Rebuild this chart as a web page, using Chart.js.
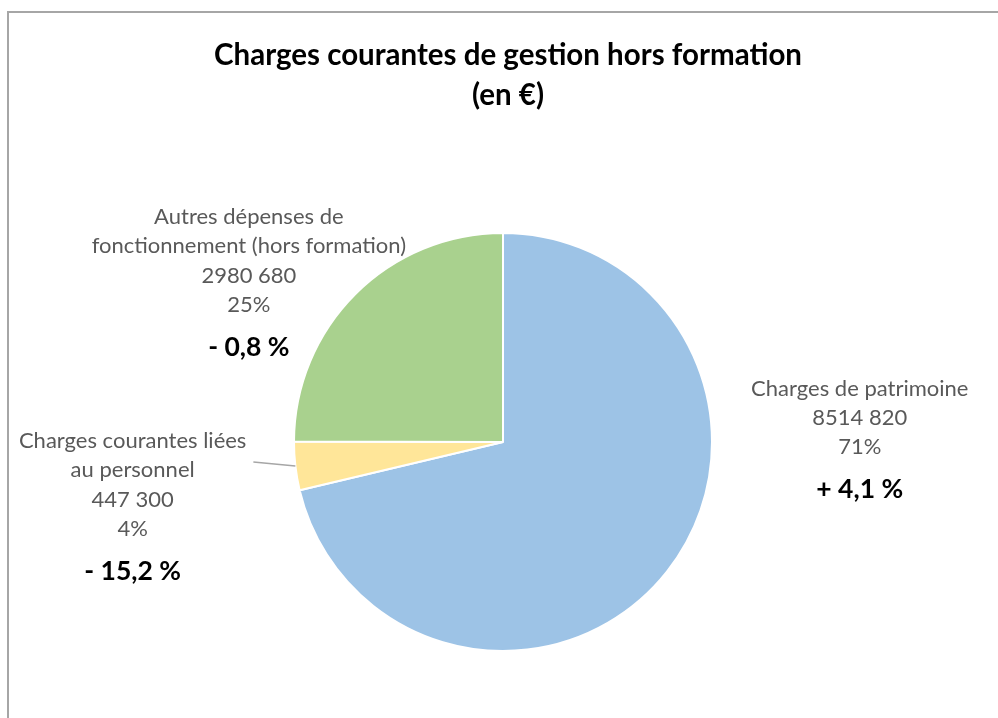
<!DOCTYPE html>
<html lang="fr">
<head>
<meta charset="utf-8">
<script src="https://cdn.jsdelivr.net/npm/chart.js@4"></script>
<style>
  html, body { margin: 0; padding: 0; background: #fff; }
  #wrap { position: relative; width: 998px; height: 718px; overflow: hidden; }
  #frame { position: absolute; left: 7px; top: 11px; width: 1100px; height: 800px;
           border-left: 2px solid #a6a6a6; border-top: 2px solid #a6a6a6; }
  canvas { position: absolute; left: 0; top: 0; }
</style>
</head>
<body>
<div id="wrap">
  <div id="frame"></div>
  <canvas id="pieChart" width="998" height="718"></canvas>
</div>
<script>
// Données du graphique
const categories = [
    'Charges de patrimoine',
    'Charges courantes liées au personnel',
    'Autres dépenses de fonctionnement (hors formation)'
];
const montants = [8514820, 447300, 2980680];
const evolutions = [4.1, -15.2, -0.8];
const titleLines = ['Charges courantes de gestion hors formation', '(en €)'];

// Mise en forme (séparée des données)
const couleurs = ['#9dc3e6', '#ffe699', '#a9d18e'];
const labelLines = [
    ['Charges de patrimoine'],
    ['Charges courantes liées', 'au personnel'],
    ['Autres dépenses de', 'fonctionnement (hors formation)']
];
// position des étiquettes, en rayons depuis le centre du camembert
const labelAnchors = [
    { dx: 1.707, dy: -0.255 },
    { dx: -1.772, dy: -0.005 },
    { dx: -1.216, dy: -1.077 }
];

const total = montants.reduce((a, b) => a + b, 0);

function fmtMontant(v) {
    const milliers = Math.floor(v / 1000);
    const reste = String(v % 1000).padStart(3, '0');
    return milliers + ' ' + reste;
}
function fmtEvol(v) {
    const s = Math.abs(v).toFixed(1).replace('.', ',');
    return (v >= 0 ? '+ ' : '- ') + s + ' %';
}

const labelsPlugin = {
    id: 'labelsPlugin',
    afterDraw(chart) {
        const ctx = chart.ctx;
        const meta = chart.getDatasetMeta(0);
        const arc0 = meta.data[0];
        const cx = arc0.x, cy = arc0.y, r = arc0.outerRadius;

        ctx.save();
        // titre
        ctx.fillStyle = '#000';
        ctx.textAlign = 'center';
        ctx.textBaseline = 'middle';
        ctx.font = 'bold 29.5px Lato';
        ctx.fillText(titleLines[0], 508, 55);
        ctx.fillText(titleLines[1], 508, 95);

        // étiquettes
        meta.data.forEach((arc, i) => {
            const ax = cx + labelAnchors[i].dx * r;
            let y = cy + labelAnchors[i].dy * r;
            const lines = labelLines[i].concat([
                fmtMontant(montants[i]),
                Math.round(montants[i] / total * 100) + '%'
            ]);
            ctx.fillStyle = '#595959';
            ctx.font = '22px Lato';
            lines.forEach(l => { ctx.fillText(l, ax, y); y += 29.3; });
            ctx.fillStyle = '#000';
            ctx.font = 'bold 26.5px Lato';
            ctx.fillText(fmtEvol(evolutions[i]), ax, y + 13);
        });

        // trait de rappel pour la petite part
        const small = meta.data[1];
        const mid = (small.startAngle + small.endAngle) / 2;
        ctx.strokeStyle = '#a6a6a6';
        ctx.lineWidth = 1.5;
        ctx.beginPath();
        ctx.moveTo(cx + Math.cos(mid) * r, cy + Math.sin(mid) * r);
        ctx.lineTo(cx + Math.cos(mid) * r - 42, cy + Math.sin(mid) * r - 4);
        ctx.stroke();
        ctx.restore();
    }
};

new Chart(document.getElementById('pieChart'), {
    type: 'pie',
    data: {
        labels: categories,
        datasets: [{
            data: montants,
            backgroundColor: couleurs,
            borderColor: '#ffffff',
            borderWidth: 2,
            hoverOffset: 0
        }]
    },
    options: {
        responsive: false,
        animation: false,
        layout: { padding: { left: 293, right: 285, top: 232, bottom: 66 } },
        plugins: {
            legend: { display: false },
            tooltip: { enabled: false },
            title: { display: false }
        }
    },
    plugins: [labelsPlugin]
});
</script>
</body>
</html>
